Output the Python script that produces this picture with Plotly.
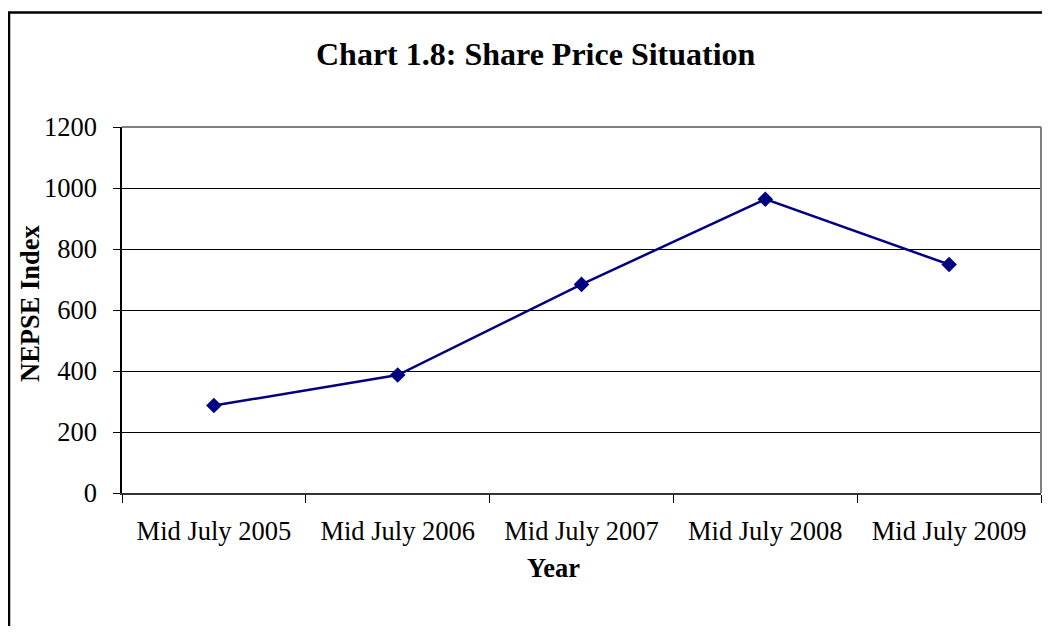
import plotly.graph_objects as go

categories = ["Mid July 2005", "Mid July 2006", "Mid July 2007", "Mid July 2008", "Mid July 2009"]
nepse_index = [286.67, 386.83, 683.95, 963.36, 749.10]
y_ticks = [0, 200, 400, 600, 800, 1000, 1200]

# page offset caused by default body margin (8px each side)
OX, OY = 8, 8
W, H = 1050 - 2 * OX, 634 - 2 * OY
L, R, T, B = 122, 1041, 127, 493  # plot area in page pixels
pw, ph = R - L, B - T

def px(x):
    return (x - L) / pw

def py(y):
    return (B - y) / ph

FONT = "Liberation Serif, Times New Roman, serif"

fig = go.Figure()
fig.add_trace(go.Scatter(
    x=categories, y=nepse_index, mode="lines+markers",
    line=dict(color="#000080", width=2.5),
    marker=dict(symbol="diamond", size=12, color="#000080"),
    showlegend=False, hoverinfo="x+y",
))

fig.update_layout(
    width=W, height=H,
    margin=dict(l=L - OX, r=(OX + W) - R, t=T - OY, b=(OY + H) - B, autoexpand=False),
    paper_bgcolor="white", plot_bgcolor="white",
    font=dict(family=FONT, color="black"),
    xaxis=dict(
        type="category", range=[-0.5, len(categories) - 0.5],
        showgrid=False, zeroline=False,
        showline=True, linecolor="#333333", linewidth=2,
        ticks="outside", tickson="boundaries", ticklen=8, tickcolor="black", tickwidth=1,
        tickfont=dict(family=FONT, size=26.5, color="black"),
        ticklabelstandoff=13,
    ),
    yaxis=dict(
        range=[0, 1200], tickvals=y_ticks, showgrid=True, gridcolor="black", gridwidth=1,
        zeroline=False, showline=True, linecolor="black", linewidth=1.5,
        ticks="outside", ticklen=7, tickcolor="black", tickwidth=1,
        tickfont=dict(family=FONT, size=26.5, color="black"),
        ticklabelstandoff=11,
    ),
    shapes=[
        dict(type="line", xref="paper", yref="paper", x0=0, x1=1, y0=1, y1=1,
             line=dict(color="#808080", width=2), layer="above"),
        dict(type="line", xref="paper", yref="paper", x0=1, x1=1, y0=0, y1=1,
             line=dict(color="#808080", width=2), layer="above"),
        dict(type="rect", xref="paper", yref="paper",
             x0=px(9), x1=px(1070), y0=py(660), y1=py(12.5),
             line=dict(color="black", width=2.5), fillcolor="rgba(0,0,0,0)"),
    ],
    annotations=[
        dict(text="<b>Chart 1.8: Share Price Situation</b>", xref="paper", yref="paper",
             x=px(536), y=py(54), xanchor="center", yanchor="middle", showarrow=False,
             font=dict(family=FONT, size=32, color="black")),
        dict(text="<b>Year</b>", xref="paper", yref="paper",
             x=px(553), y=py(568), xanchor="center", yanchor="middle", showarrow=False,
             font=dict(family=FONT, size=26.5, color="black")),
        dict(text="<b>NEPSE Index</b>", xref="paper", yref="paper", textangle=-90,
             x=px(30), y=py(303), xanchor="center", yanchor="middle", showarrow=False,
             font=dict(family=FONT, size=26.5, color="black")),
    ],
)

fig.write_html("out.html")
